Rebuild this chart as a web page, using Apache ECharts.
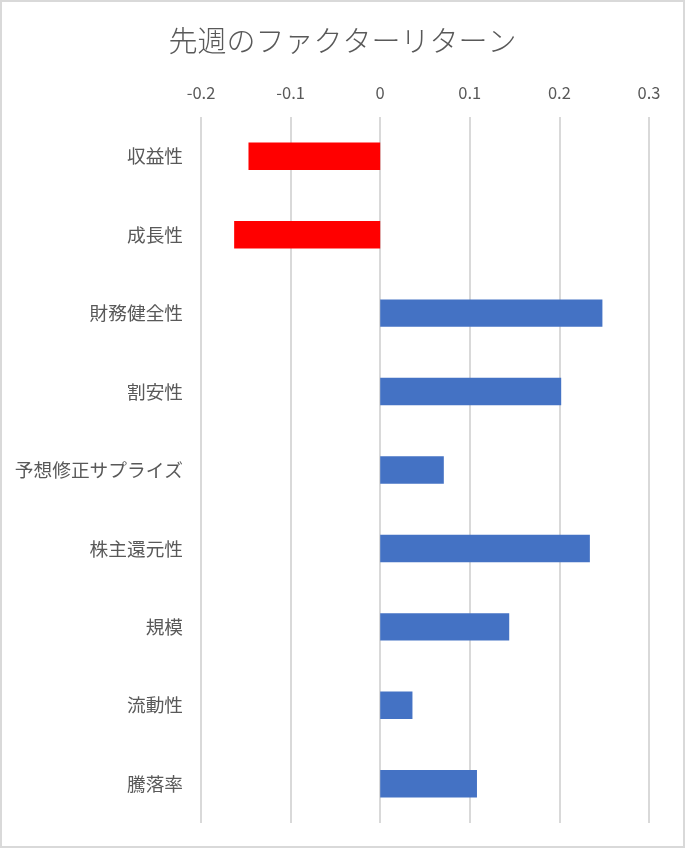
<!DOCTYPE html>
<html>
<head>
<meta charset="utf-8">
<script src="https://cdn.jsdelivr.net/npm/echarts@6/dist/echarts.min.js"></script>
<style>
  html, body { margin: 0; padding: 0; background: #fff; }
  #chart { width: 685px; height: 848px; }
</style>
</head>
<body>
<div id="chart"></div>
<script>
const title = '先週のファクターリターン';
const categories = ['収益性', '成長性', '財務健全性', '割安性', '予想修正サプライズ', '株主還元性', '規模', '流動性', '騰落率'];
const returns = [-0.147, -0.163, 0.248, 0.202, 0.071, 0.234, 0.144, 0.036, 0.108];
const axisMin = -0.2;
const axisMax = 0.3;
const axisStep = 0.1;

const negColor = '#FF0000';
const posColor = '#4472C4';
const textColor = '#595959';
const font = '"Noto Sans CJK JP", "Noto Sans", sans-serif';

const chart = echarts.init(document.getElementById('chart'), null, { renderer: 'canvas' });
chart.setOption({
  backgroundColor: '#ffffff',
  animation: false,
  title: {
    text: title,
    left: 'center',
    top: 21,
    textStyle: { fontFamily: font, fontSize: 29, fontWeight: 300, color: textColor }
  },
  graphic: [{
    type: 'rect',
    shape: { x: 1, y: 1, width: 683, height: 846 },
    style: { fill: 'none', stroke: '#d9d9d9', lineWidth: 2 },
    silent: true
  }],
  grid: { left: 201, right: 36, top: 117, bottom: 25, containLabel: false },
  xAxis: {
    type: 'value',
    position: 'top',
    min: axisMin,
    max: axisMax,
    interval: axisStep,
    axisLine: { show: false },
    axisTick: { show: false },
    axisLabel: { fontFamily: font, fontSize: 16.5, color: textColor, margin: 16 },
    splitLine: { show: true, lineStyle: { color: '#d9d9d9', width: 2 } }
  },
  yAxis: {
    type: 'category',
    data: categories,
    inverse: true,
    axisLine: { show: false },
    axisTick: { show: false },
    axisLabel: { fontFamily: font, fontSize: 18.7, color: textColor, margin: 18 }
  },
  series: [{
    type: 'bar',
    data: returns.map(v => ({ value: v, itemStyle: { color: v < 0 ? negColor : posColor } })),
    barCategoryGap: '65%'
  }]
});
</script>
</body>
</html>
